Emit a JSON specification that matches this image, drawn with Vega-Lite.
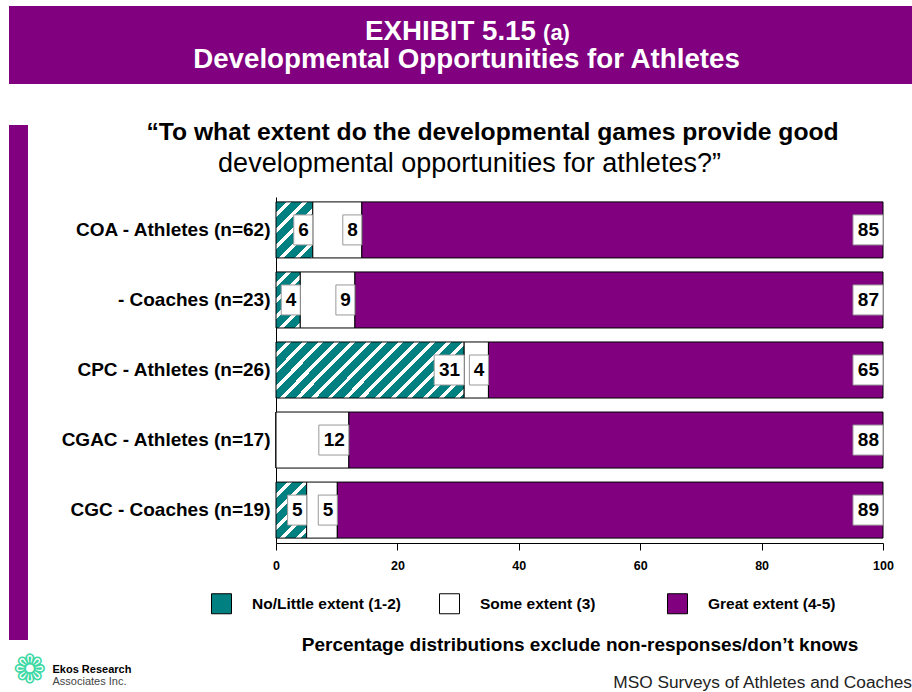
{
  "$schema": "https://vega.github.io/schema/vega-lite/v6.json",
  "background": "white",
  "padding": {"left": 9, "top": 6, "right": 0, "bottom": 0},
  "config": {"view": {"stroke": null}, "font": "Liberation Sans"},
  "title": {"text": "MSO Surveys of Athletes and Coaches", "orient": "bottom", "anchor": "end", "frame": "bounds", "fontSize": 17.3, "fontWeight": "normal", "color": "#222222", "offset": -17},
  "spacing": 36,
  "vconcat": [
    {
      "width": 903,
      "height": 78,
      "view": {"fill": "#800080", "stroke": null},
      "data": {"values": [{}]},
      "layer": [
        {"mark": {"type": "text", "text": "EXHIBIT 5.15", "fontSize": 27.7, "fontWeight": "bold", "color": "white", "align": "center", "baseline": "alphabetic", "dx": -10, "dy": -5}},
        {"mark": {"type": "text", "text": "(a)", "fontSize": 22, "fontWeight": "bold", "color": "white", "align": "center", "baseline": "alphabetic", "dx": 96, "dy": -5}},
        {"mark": {"type": "text", "text": "Developmental Opportunities for Athletes", "fontSize": 27.7, "fontWeight": "bold", "color": "white", "align": "center", "baseline": "alphabetic", "dx": 6, "dy": 23}}
      ]
    },
    {
      "spacing": -72,
      "hconcat": [
        {
          "width": 19,
          "height": 515,
          "view": {"fill": "#800080", "stroke": null},
          "data": {"values": [{}]},
          "layer": [
            {"mark": {"type": "text", "text": "❁", "fontSize": 40, "color": "#3fd9a6", "align": "center", "baseline": "middle", "dx": 11, "dy": 288}},
            {"mark": {"type": "text", "text": "Ekos Research", "fontSize": 11, "fontWeight": "bold", "color": "black", "align": "left", "baseline": "alphabetic", "dx": 34, "dy": 290}},
            {"mark": {"type": "text", "text": "Associates Inc.", "fontSize": 11, "color": "#444444", "align": "left", "baseline": "alphabetic", "dx": 34, "dy": 302}}
          ]
        },
        {
          "spacing": 10,
          "vconcat": [
            {
              "width": 607,
              "height": 62,
              "data": {"values": [{}]},
              "layer": [
                {"mark": {"type": "text", "text": "“To what extent do the developmental games provide good", "fontSize": 24.7, "fontWeight": "bold", "color": "black", "align": "center", "baseline": "alphabetic", "dx": -87, "dy": -16}},
                {"mark": {"type": "text", "text": "developmental opportunities for athletes?”", "fontSize": 27, "fontWeight": "normal", "color": "black", "align": "center", "baseline": "alphabetic", "dx": -110, "dy": 16}}
              ]
            },
            {
              "width": 607,
              "height": 346,
              "data": {
                "values": [
                  {"grp": "COA - Athletes (n=62)", "cat": "No/Little extent (1-2)", "ord": 1, "v": 6},
                  {"grp": "COA - Athletes (n=62)", "cat": "Some extent (3)", "ord": 2, "v": 8},
                  {"grp": "COA - Athletes (n=62)", "cat": "Great extent (4-5)", "ord": 3, "v": 85},
                  {"grp": "- Coaches (n=23)", "cat": "No/Little extent (1-2)", "ord": 1, "v": 4},
                  {"grp": "- Coaches (n=23)", "cat": "Some extent (3)", "ord": 2, "v": 9},
                  {"grp": "- Coaches (n=23)", "cat": "Great extent (4-5)", "ord": 3, "v": 87},
                  {"grp": "CPC - Athletes (n=26)", "cat": "No/Little extent (1-2)", "ord": 1, "v": 31},
                  {"grp": "CPC - Athletes (n=26)", "cat": "Some extent (3)", "ord": 2, "v": 4},
                  {"grp": "CPC - Athletes (n=26)", "cat": "Great extent (4-5)", "ord": 3, "v": 65},
                  {"grp": "CGAC - Athletes (n=17)", "cat": "No/Little extent (1-2)", "ord": 1, "v": 0},
                  {"grp": "CGAC - Athletes (n=17)", "cat": "Some extent (3)", "ord": 2, "v": 12},
                  {"grp": "CGAC - Athletes (n=17)", "cat": "Great extent (4-5)", "ord": 3, "v": 88},
                  {"grp": "CGC - Coaches (n=19)", "cat": "No/Little extent (1-2)", "ord": 1, "v": 5},
                  {"grp": "CGC - Coaches (n=19)", "cat": "Some extent (3)", "ord": 2, "v": 5},
                  {"grp": "CGC - Coaches (n=19)", "cat": "Great extent (4-5)", "ord": 3, "v": 89}
                ]
              },
              "encoding": {
                "y": {
                  "field": "grp",
                  "type": "nominal",
                  "sort": null,
                  "scale": {"paddingInner": 0.2, "paddingOuter": 0.07},
                  "axis": {"title": null, "domainColor": "black", "domainWidth": 1, "ticks": false, "labelFontSize": 19, "labelFontWeight": "bold", "labelColor": "black", "labelPadding": 6, "labelLimit": 400}
                }
              },
              "layer": [
                {
                  "mark": {"type": "bar", "stroke": "black", "strokeWidth": 1},
                  "encoding": {
                    "x": {
                      "field": "v",
                      "type": "quantitative",
                      "stack": "normalize",
                      "axis": {"values": [0, 0.2, 0.4, 0.6, 0.8, 1], "labelExpr": "format(datum.value * 100, 'd')", "grid": false, "domainColor": "black", "tickColor": "black", "tickSize": 7, "labelFontWeight": "bold", "labelFontSize": 12.5, "labelColor": "black", "labelPadding": 9, "labelFlush": false, "labelOverlap": false, "title": "Percentage distributions exclude non-responses/don’t knows", "titleFontSize": 19, "titleFontWeight": "bold", "titleColor": "black", "titlePadding": 64}
                    },
                    "order": {"field": "ord"},
                    "fill": {
                      "field": "cat",
                      "type": "nominal",
                      "scale": {
                        "domain": ["No/Little extent (1-2)", "Some extent (3)", "Great extent (4-5)"],
                        "range": ["#008080", "#ffffff", "#800080"]
                      },
                      "legend": {
                        "orient": "none", "legendX": 202, "legendY": 587, "direction": "horizontal", "columns": 3, "gridAlign": "all", "title": null,
                        "symbolType": "square", "symbolSize": 400, "symbolStrokeColor": "black", "symbolStrokeWidth": 1,
                        "labelFontSize": 15.5, "labelFontWeight": "bold", "labelColor": "black", "labelOffset": 20, "columnPadding": 36, "labelLimit": 400,
                        "encode": {
                          "symbols": {
                            "update": {
                              "stroke": {"value": "black"},
                              "strokeWidth": {"value": 1},
                              "fill": [
                                {"test": "datum.value === 'No/Little extent (1-2)'", "value": {"gradient": "linear", "x1": 0, "y1": 0, "x2": 1, "y2": 1, "stops": [{"offset": 0, "color": "#008080"}, {"offset": 0.38, "color": "#008080"}, {"offset": 0.38, "color": "#ffffff"}, {"offset": 0.62, "color": "#ffffff"}, {"offset": 0.62, "color": "#008080"}, {"offset": 1, "color": "#008080"}]}},
                                {"test": "datum.value === 'Some extent (3)'", "value": "#ffffff"},
                                {"value": "#800080"}
                              ]
                            }
                          }
                        }
                      },
                      "condition": [
                        {"test": "datum.ord == 1 && datum.v == 6", "value": {"gradient": "linear", "x1": 0, "y1": 0, "x2": 0.7606, "y2": 1.1574, "stops": [
                          {"offset": 0, "color": "#008080"}, {"offset": 0.1185, "color": "#008080"}, {"offset": 0.1185, "color": "#ffffff"}, {"offset": 0.1724, "color": "#ffffff"}, {"offset": 0.1724, "color": "#008080"},
                          {"offset": 0.2909, "color": "#008080"}, {"offset": 0.2909, "color": "#ffffff"}, {"offset": 0.3448, "color": "#ffffff"}, {"offset": 0.3448, "color": "#008080"},
                          {"offset": 0.4634, "color": "#008080"}, {"offset": 0.4634, "color": "#ffffff"}, {"offset": 0.5172, "color": "#ffffff"}, {"offset": 0.5172, "color": "#008080"},
                          {"offset": 0.6358, "color": "#008080"}, {"offset": 0.6358, "color": "#ffffff"}, {"offset": 0.6897, "color": "#ffffff"}, {"offset": 0.6897, "color": "#008080"},
                          {"offset": 0.8082, "color": "#008080"}, {"offset": 0.8082, "color": "#ffffff"}, {"offset": 0.8621, "color": "#ffffff"}, {"offset": 0.8621, "color": "#008080"},
                          {"offset": 0.9806, "color": "#008080"}, {"offset": 0.9806, "color": "#ffffff"}, {"offset": 1, "color": "#ffffff"}]}},
                        {"test": "datum.ord == 1 && datum.v == 4", "value": {"gradient": "linear", "x1": 0, "y1": 0, "x2": 0.5236, "y2": 1.2067, "stops": [
                          {"offset": 0, "color": "#008080"}, {"offset": 0.1370, "color": "#008080"}, {"offset": 0.1370, "color": "#ffffff"}, {"offset": 0.1993, "color": "#ffffff"}, {"offset": 0.1993, "color": "#008080"},
                          {"offset": 0.3362, "color": "#008080"}, {"offset": 0.3362, "color": "#ffffff"}, {"offset": 0.3985, "color": "#ffffff"}, {"offset": 0.3985, "color": "#008080"},
                          {"offset": 0.5355, "color": "#008080"}, {"offset": 0.5355, "color": "#ffffff"}, {"offset": 0.5978, "color": "#ffffff"}, {"offset": 0.5978, "color": "#008080"},
                          {"offset": 0.7347, "color": "#008080"}, {"offset": 0.7347, "color": "#ffffff"}, {"offset": 0.7970, "color": "#ffffff"}, {"offset": 0.7970, "color": "#008080"},
                          {"offset": 0.9340, "color": "#008080"}, {"offset": 0.9340, "color": "#ffffff"}, {"offset": 0.9963, "color": "#ffffff"}, {"offset": 0.9963, "color": "#008080"}, {"offset": 1, "color": "#008080"}]}},
                        {"test": "datum.ord == 1 && datum.v == 31", "value": {"gradient": "linear", "x1": 0, "y1": 0, "x2": 1.1920, "y2": 0.3547, "stops": [
                          {"offset": 0, "color": "#008080"},
                          {"offset": 0.0450, "color": "#008080"}, {"offset": 0.0450, "color": "#ffffff"}, {"offset": 0.0655, "color": "#ffffff"}, {"offset": 0.0655, "color": "#008080"},
                          {"offset": 0.1106, "color": "#008080"}, {"offset": 0.1106, "color": "#ffffff"}, {"offset": 0.1310, "color": "#ffffff"}, {"offset": 0.1310, "color": "#008080"},
                          {"offset": 0.1761, "color": "#008080"}, {"offset": 0.1761, "color": "#ffffff"}, {"offset": 0.1966, "color": "#ffffff"}, {"offset": 0.1966, "color": "#008080"},
                          {"offset": 0.2416, "color": "#008080"}, {"offset": 0.2416, "color": "#ffffff"}, {"offset": 0.2621, "color": "#ffffff"}, {"offset": 0.2621, "color": "#008080"},
                          {"offset": 0.3071, "color": "#008080"}, {"offset": 0.3071, "color": "#ffffff"}, {"offset": 0.3276, "color": "#ffffff"}, {"offset": 0.3276, "color": "#008080"},
                          {"offset": 0.3726, "color": "#008080"}, {"offset": 0.3726, "color": "#ffffff"}, {"offset": 0.3931, "color": "#ffffff"}, {"offset": 0.3931, "color": "#008080"},
                          {"offset": 0.4382, "color": "#008080"}, {"offset": 0.4382, "color": "#ffffff"}, {"offset": 0.4586, "color": "#ffffff"}, {"offset": 0.4586, "color": "#008080"},
                          {"offset": 0.5037, "color": "#008080"}, {"offset": 0.5037, "color": "#ffffff"}, {"offset": 0.5242, "color": "#ffffff"}, {"offset": 0.5242, "color": "#008080"},
                          {"offset": 0.5692, "color": "#008080"}, {"offset": 0.5692, "color": "#ffffff"}, {"offset": 0.5897, "color": "#ffffff"}, {"offset": 0.5897, "color": "#008080"},
                          {"offset": 0.6347, "color": "#008080"}, {"offset": 0.6347, "color": "#ffffff"}, {"offset": 0.6552, "color": "#ffffff"}, {"offset": 0.6552, "color": "#008080"},
                          {"offset": 0.7002, "color": "#008080"}, {"offset": 0.7002, "color": "#ffffff"}, {"offset": 0.7207, "color": "#ffffff"}, {"offset": 0.7207, "color": "#008080"},
                          {"offset": 0.7658, "color": "#008080"}, {"offset": 0.7658, "color": "#ffffff"}, {"offset": 0.7862, "color": "#ffffff"}, {"offset": 0.7862, "color": "#008080"},
                          {"offset": 0.8313, "color": "#008080"}, {"offset": 0.8313, "color": "#ffffff"}, {"offset": 0.8518, "color": "#ffffff"}, {"offset": 0.8518, "color": "#008080"},
                          {"offset": 0.8968, "color": "#008080"}, {"offset": 0.8968, "color": "#ffffff"}, {"offset": 0.9173, "color": "#ffffff"}, {"offset": 0.9173, "color": "#008080"},
                          {"offset": 0.9623, "color": "#008080"}, {"offset": 0.9623, "color": "#ffffff"}, {"offset": 0.9828, "color": "#ffffff"}, {"offset": 0.9828, "color": "#008080"},
                          {"offset": 1, "color": "#008080"}]}},
                        {"test": "datum.ord == 1 && datum.v == 5", "value": {"gradient": "linear", "x1": 0, "y1": 0, "x2": 0.6526, "y2": 1.1904, "stops": [
                          {"offset": 0, "color": "#008080"}, {"offset": 0.1269, "color": "#008080"}, {"offset": 0.1269, "color": "#ffffff"}, {"offset": 0.1845, "color": "#ffffff"}, {"offset": 0.1845, "color": "#008080"},
                          {"offset": 0.3114, "color": "#008080"}, {"offset": 0.3114, "color": "#ffffff"}, {"offset": 0.3691, "color": "#ffffff"}, {"offset": 0.3691, "color": "#008080"},
                          {"offset": 0.4960, "color": "#008080"}, {"offset": 0.4960, "color": "#ffffff"}, {"offset": 0.5536, "color": "#ffffff"}, {"offset": 0.5536, "color": "#008080"},
                          {"offset": 0.6805, "color": "#008080"}, {"offset": 0.6805, "color": "#ffffff"}, {"offset": 0.7382, "color": "#ffffff"}, {"offset": 0.7382, "color": "#008080"},
                          {"offset": 0.8651, "color": "#008080"}, {"offset": 0.8651, "color": "#ffffff"}, {"offset": 0.9227, "color": "#ffffff"}, {"offset": 0.9227, "color": "#008080"}, {"offset": 1, "color": "#008080"}]}}
                      ]
                    }
                  }
                },
                {
                  "transform": [{"filter": "datum.v > 0"}],
                  "mark": {"type": "point", "filled": true, "fill": "white", "stroke": "#999999", "strokeWidth": 1, "opacity": 1, "size": 900},
                  "encoding": {
                    "x": {"field": "v", "type": "quantitative", "stack": "normalize"},
                    "detail": {"field": "cat"},
                    "order": {"field": "ord"},
                    "shape": {"condition": {"test": "datum.v >= 10", "value": "M-2,-1H0V1H-2Z"}, "value": "M-1.27,-1H0V1H-1.27Z"}
                  }
                },
                {
                  "transform": [{"filter": "datum.v > 0"}],
                  "mark": {"type": "text", "align": "right", "baseline": "middle", "dx": -4, "fontSize": 19, "fontWeight": "bold", "color": "black"},
                  "encoding": {
                    "x": {"field": "v", "type": "quantitative", "stack": "normalize"},
                    "detail": {"field": "cat"},
                    "order": {"field": "ord"},
                    "text": {"field": "v", "type": "quantitative"}
                  }
                }
              ]
            }
          ]
        }
      ]
    }
  ]
}
